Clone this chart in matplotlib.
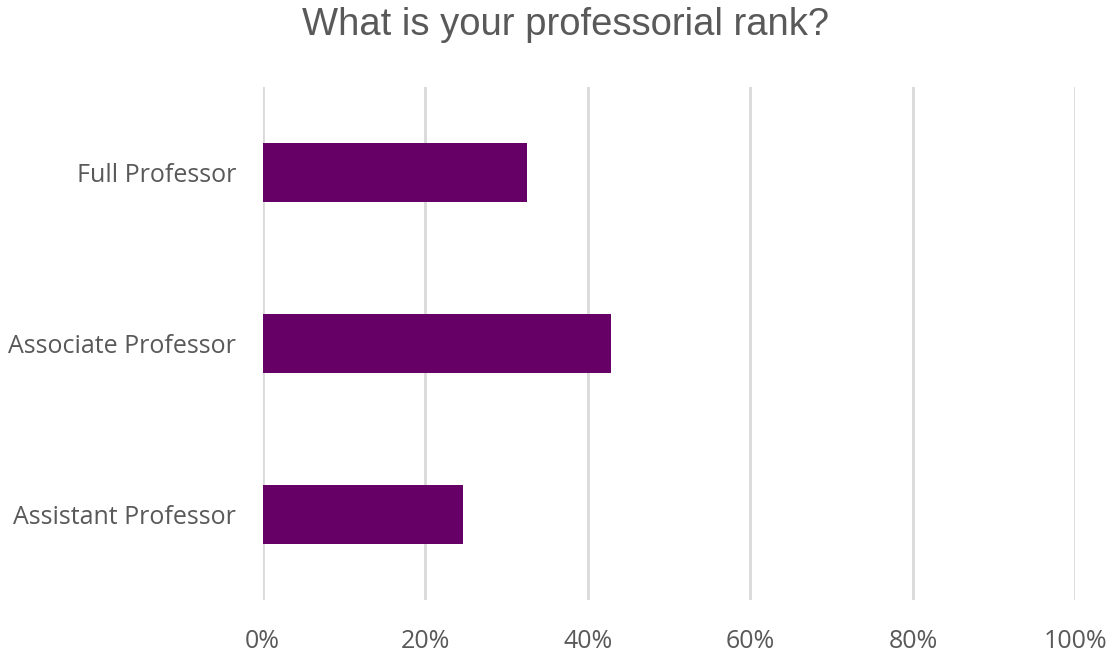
import matplotlib
matplotlib.use("Agg")
import matplotlib.pyplot as plt
from matplotlib.ticker import PercentFormatter

categories = ["Assistant Professor", "Associate Professor", "Full Professor"]
values = [24.6, 42.8, 32.5]
xticks = [0, 20, 40, 60, 80, 100]

fig = plt.figure(figsize=(11.13, 6.56), dpi=100)
ax = fig.add_axes([0.236, 0.0854, 0.7303, 0.782])

ax.barh(categories, values, height=0.35, color="#660066", zorder=3)
ax.set_xlim(0, 100)
ax.set_ylim(-0.5, 2.5)
ax.set_xticks(xticks)
ax.xaxis.set_major_formatter(PercentFormatter(decimals=0))
ax.grid(axis="x", color="#d9d9d9", linewidth=2, zorder=0)
ax.grid(axis="y", visible=False)
for s in ax.spines.values():
    s.set_visible(False)
ax.tick_params(axis="both", length=0, labelcolor="#595959")
ax.tick_params(axis="x", pad=21, labelsize=18)
ax.tick_params(axis="y", pad=19, labelsize=18)
for lab in ax.get_xticklabels() + ax.get_yticklabels():
    lab.set_fontfamily("Open Sans")

fig.suptitle("What is your professorial rank?", x=0.508, y=0.99, fontsize=27.5,
             color="#595959", fontfamily="Liberation Sans")

fig.savefig("out.png", dpi=100)
